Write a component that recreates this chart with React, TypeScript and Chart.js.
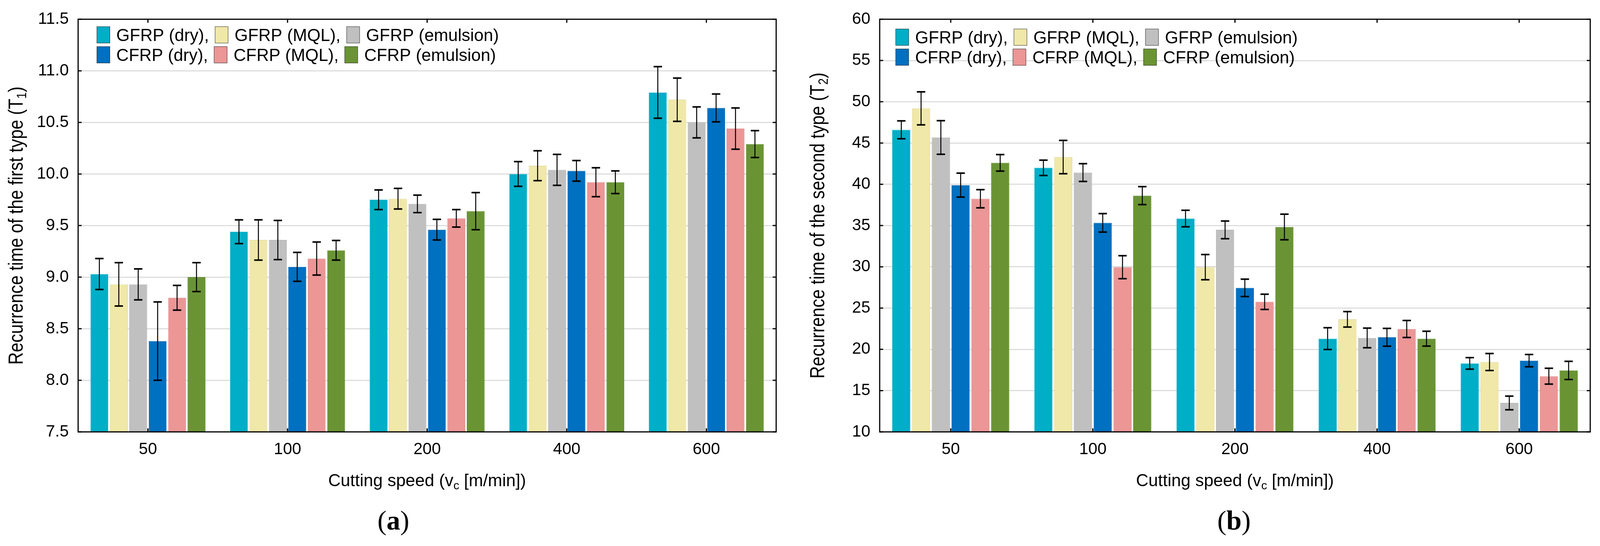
import React, { useEffect, useRef } from 'react';
import { Chart, registerables } from 'chart.js';

Chart.register(...registerables);

// ---------- data ----------
const categories = ['50', '100', '200', '400', '600'];
const seriesLabels = ['GFRP (dry)', 'GFRP (MQL)', 'GFRP (emulsion)', 'CFRP (dry)', 'CFRP (MQL)', 'CFRP (emulsion)'];
const seriesColors = ['#00AEC7', '#F0E8A8', '#C0C0C0', '#0070C0', '#EC9696', '#6A9434'];
const seriesBorders = ['#1BB8CF', '#D9D196', '#ABABAB', '#0A66B0', '#D98888', '#5E8A2C'];

// (a) recurrence time of the first type T1
const t1GfrpDry = [9.03, 9.44, 9.75, 10.0, 10.79];
const t1GfrpMql = [8.93, 9.36, 9.76, 10.08, 10.72];
const t1GfrpEmu = [8.93, 9.36, 9.71, 10.04, 10.5];
const t1CfrpDry = [8.38, 9.1, 9.46, 10.03, 10.64];
const t1CfrpMql = [8.8, 9.18, 9.57, 9.92, 10.44];
const t1CfrpEmu = [9.0, 9.26, 9.64, 9.92, 10.29];
const t1ErrGfrpDry = [0.15, 0.115, 0.095, 0.12, 0.25];
const t1ErrGfrpMql = [0.21, 0.195, 0.1, 0.145, 0.21];
const t1ErrGfrpEmu = [0.15, 0.19, 0.085, 0.15, 0.15];
const t1ErrCfrpDry = [0.38, 0.14, 0.1, 0.1, 0.135];
const t1ErrCfrpMql = [0.12, 0.16, 0.085, 0.14, 0.2];
const t1ErrCfrpEmu = [0.14, 0.095, 0.18, 0.11, 0.13];

// (b) recurrence time of the second type T2
const t2GfrpDry = [46.6, 42.0, 35.85, 21.3, 18.3];
const t2GfrpMql = [49.2, 43.3, 29.96, 23.64, 18.47];
const t2GfrpEmu = [45.67, 41.42, 34.48, 21.38, 13.5];
const t2CfrpDry = [39.9, 35.33, 27.45, 21.46, 18.63];
const t2CfrpMql = [38.25, 29.96, 25.76, 22.47, 16.75];
const t2CfrpEmu = [42.6, 38.63, 34.83, 21.3, 17.45];
const t2ErrGfrpDry = [1.08, 0.93, 1.0, 1.32, 0.7];
const t2ErrGfrpMql = [2.0, 2.02, 1.53, 0.94, 1.03];
const t2ErrGfrpEmu = [2.04, 1.08, 1.07, 1.19, 0.83];
const t2ErrCfrpDry = [1.45, 1.12, 1.05, 1.08, 0.75];
const t2ErrCfrpMql = [1.1, 1.39, 0.92, 1.03, 0.96];
const t2ErrCfrpEmu = [1.0, 1.09, 1.55, 0.9, 1.1];

const t1Values = [t1GfrpDry, t1GfrpMql, t1GfrpEmu, t1CfrpDry, t1CfrpMql, t1CfrpEmu];
const t1Errors = [t1ErrGfrpDry, t1ErrGfrpMql, t1ErrGfrpEmu, t1ErrCfrpDry, t1ErrCfrpMql, t1ErrCfrpEmu];
const t2Values = [t2GfrpDry, t2GfrpMql, t2GfrpEmu, t2CfrpDry, t2CfrpMql, t2CfrpEmu];
const t2Errors = [t2ErrGfrpDry, t2ErrGfrpMql, t2ErrGfrpEmu, t2ErrCfrpDry, t2ErrCfrpMql, t2ErrCfrpEmu];

const FONT = "'Liberation Sans', Arial, Helvetica, sans-serif";
const SERIF = "'Liberation Serif', 'Times New Roman', serif";
const REF_W = 4190;
const H = 1397;
const PLOT_BOTTOM = 1105;
const PLOT_TOP = 42;

type Part = { t: string; sub?: boolean };

function drawParts(ctx: CanvasRenderingContext2D, parts: Part[], cx: number, baseline: number, size: number) {
  const subSize = Math.round(size * 0.68);
  let total = 0;
  const widths: number[] = [];
  parts.forEach((p) => {
    ctx.font = `${p.sub ? subSize : size}px ${FONT}`;
    const w = ctx.measureText(p.t).width;
    widths.push(w);
    total += w;
  });
  let x = cx - total / 2;
  ctx.textAlign = 'left';
  ctx.textBaseline = 'alphabetic';
  parts.forEach((p, i) => {
    ctx.font = `${p.sub ? subSize : size}px ${FONT}`;
    ctx.fillText(p.t, x, p.sub ? baseline + size * 0.18 : baseline);
    x += widths[i];
  });
}

interface DecorCfg {
  yTitle: Part[];
  yTitleBaselineX: number;
  xTitle: Part[];
  xTitleBaseline: number;
  legendDx: number;
  legendDy: number;
  sx: number;
}

function makeDecor(cfg: DecorCfg) {
  return {
    id: 'decor',
    afterDatasetsDraw(chart: any) {
      const ctx: CanvasRenderingContext2D = chart.ctx;
      const ys = chart.scales.y;
      const cap = 11 * cfg.sx;
      ctx.save();
      ctx.strokeStyle = '#000';
      chart.data.datasets.forEach((ds: any, i: number) => {
        const meta = chart.getDatasetMeta(i);
        meta.data.forEach((el: any, j: number) => {
          const v = ds.data[j];
          const e = ds.errors[j];
          const x = el.x;
          const yt = ys.getPixelForValue(v + e);
          const yb = ys.getPixelForValue(v - e);
          ctx.lineWidth = 2.5;
          ctx.beginPath();
          ctx.moveTo(x, yt);
          ctx.lineTo(x, yb);
          ctx.stroke();
          ctx.lineWidth = 4;
          ctx.beginPath();
          ctx.moveTo(x - cap, yt);
          ctx.lineTo(x + cap, yt);
          ctx.moveTo(x - cap, yb);
          ctx.lineTo(x + cap, yb);
          ctx.stroke();
        });
      });
      ctx.restore();
    },
    afterDraw(chart: any) {
      const ctx: CanvasRenderingContext2D = chart.ctx;
      const ca = chart.chartArea;
      const xs = chart.scales.x;
      const ys = chart.scales.y;
      ctx.save();
      // frame
      ctx.strokeStyle = '#000';
      ctx.lineWidth = 3;
      ctx.strokeRect(ca.left, ca.top, ca.right - ca.left, ca.bottom - ca.top);
      // inward tick marks on all four sides
      ctx.beginPath();
      ys.ticks.forEach((_t: any, i: number) => {
        const py = ys.getPixelForTick(i);
        ctx.moveTo(ca.left, py);
        ctx.lineTo(ca.left + 9, py);
        ctx.moveTo(ca.right, py);
        ctx.lineTo(ca.right - 9, py);
      });
      xs.ticks.forEach((_t: any, i: number) => {
        const px = xs.getPixelForTick(i);
        ctx.moveTo(px, ca.top);
        ctx.lineTo(px, ca.top + 9);
        ctx.moveTo(px, ca.bottom);
        ctx.lineTo(px, ca.bottom - 9);
      });
      ctx.stroke();

      // legend inside the plot, two rows of three
      const rows = [[0, 1, 2], [3, 4, 5]];
      const size = 44;
      const bw = 34 * cfg.sx;
      ctx.textAlign = 'left';
      ctx.textBaseline = 'alphabetic';
      rows.forEach((row, r) => {
        let x = ca.left + cfg.legendDx;
        const cy = ca.top + cfg.legendDy + r * 51;
        row.forEach((idx, k) => {
          const ds = chart.data.datasets[idx];
          ctx.fillStyle = ds.backgroundColor;
          ctx.fillRect(x, cy - 21, bw, 42);
          ctx.strokeStyle = 'rgba(0,0,0,0.55)';
          ctx.lineWidth = 1.5;
          ctx.strokeRect(x, cy - 21, bw, 42);
          x += bw + 17 * cfg.sx;
          const text = ds.label + (k < row.length - 1 ? ',' : '');
          ctx.fillStyle = '#000';
          ctx.font = `${size}px ${FONT}`;
          ctx.fillText(text, x, cy + 15.5);
          x += ctx.measureText(text).width + 16 * cfg.sx;
        });
      });

      // x-axis title
      ctx.fillStyle = '#000';
      drawParts(ctx, cfg.xTitle, (ca.left + ca.right) / 2, cfg.xTitleBaseline, 44);

      // y-axis title (rotated, slightly condensed)
      ctx.save();
      ctx.translate(cfg.yTitleBaselineX, (ca.top + ca.bottom) / 2);
      ctx.rotate(-Math.PI / 2);
      ctx.scale(0.85, 1);
      drawParts(ctx, cfg.yTitle, 0, 0, 52);
      ctx.restore();

      ctx.restore();
    },
  };
}

interface PanelProps {
  values: number[][];
  errors: number[][];
  yMin: number;
  yMax: number;
  yStep: number;
  decimals: number;
  width: number;
  plotLeft: number;
  plotRight: number;
  decor: DecorCfg;
}

function Panel(props: PanelProps) {
  const ref = useRef<HTMLCanvasElement | null>(null);
  useEffect(() => {
    if (!ref.current) return;
    const datasets = props.values.map((vals, i) => ({
      label: seriesLabels[i],
      data: vals,
      errors: props.errors[i],
      backgroundColor: seriesColors[i],
      borderColor: seriesBorders[i],
      borderWidth: 1,
      categoryPercentage: 0.835,
      barPercentage: 0.92,
    }));
    const chart = new Chart(ref.current, {
      type: 'bar',
      data: { labels: categories, datasets: datasets as any },
      options: {
        animation: false,
        responsive: false,
        maintainAspectRatio: false,
        devicePixelRatio: 1,
        layout: { padding: { left: 0, right: props.width - props.plotRight, top: PLOT_TOP, bottom: 0 } },
        plugins: {
          legend: { display: false },
          title: { display: false },
          tooltip: { enabled: false },
        },
        scales: {
          x: {
            type: 'category',
            grid: { display: false, drawTicks: false },
            border: { display: false },
            ticks: { color: '#000', font: { family: FONT, size: 42 }, padding: 20 },
            afterFit: (s: any) => {
              s.height = H - PLOT_BOTTOM;
            },
          },
          y: {
            type: 'linear',
            min: props.yMin,
            max: props.yMax,
            grid: { color: '#D8D8D8', lineWidth: 2.5, drawTicks: false },
            border: { display: false },
            ticks: {
              stepSize: props.yStep,
              color: '#000',
              font: { family: FONT, size: 42 },
              padding: 24,
              callback: (v: any) => Number(v).toFixed(props.decimals),
            },
            afterFit: (s: any) => {
              s.width = props.plotLeft;
            },
          },
        },
      } as any,
      plugins: [makeDecor(props.decor) as any],
    });
    return () => chart.destroy();
  }, []);
  return <canvas ref={ref} width={props.width} height={H} style={{ width: props.width, height: H, display: 'block' }} />;
}

export default function App() {
  const vw = typeof window !== 'undefined' && window.innerWidth ? Math.min(window.innerWidth, REF_W) : REF_W;
  const sx = vw / REF_W;
  const X = (v: number) => Math.round(v * sx);
  const aW = X(2095);
  const bW = X(REF_W) - X(2095);
  const captionStyle: React.CSSProperties = {
    position: 'absolute',
    width: 200,
    top: 1292,
    textAlign: 'center',
    fontFamily: SERIF,
    fontSize: 70,
    lineHeight: '80px',
    color: '#000',
  };
  return (
    <div style={{ position: 'absolute', left: 0, top: 0, width: X(REF_W), height: H, background: '#fff', overflow: 'hidden' }}>
      <div style={{ position: 'absolute', left: 0, top: 0 }}>
        <Panel
          values={t1Values}
          errors={t1Errors}
          yMin={7.5}
          yMax={11.5}
          yStep={0.5}
          decimals={1}
          width={aW}
          plotLeft={X(205)}
          plotRight={X(2033)}
          decor={{
            yTitle: [{ t: 'Recurrence time of the first type (T' }, { t: '1', sub: true }, { t: ')' }],
            yTitleBaselineX: X(59),
            xTitle: [{ t: 'Cutting speed (v' }, { t: 'c', sub: true }, { t: ' [m/min])' }],
            xTitleBaseline: 1244,
            legendDx: X(49),
            legendDy: 40,
            sx,
          }}
        />
      </div>
      <div style={{ position: 'absolute', left: X(2095), top: 0 }}>
        <Panel
          values={t2Values}
          errors={t2Errors}
          yMin={10}
          yMax={60}
          yStep={5}
          decimals={0}
          width={bW}
          plotLeft={X(2304) - X(2095)}
          plotRight={X(4164) - X(2095)}
          decor={{
            yTitle: [{ t: 'Recurrence time of the second type (T' }, { t: '2', sub: true }, { t: ')' }],
            yTitleBaselineX: X(2158) - X(2095),
            xTitle: [{ t: 'Cutting speed (v' }, { t: 'c', sub: true }, { t: ' [m/min])' }],
            xTitleBaseline: 1244,
            legendDx: X(42),
            legendDy: 46,
            sx,
          }}
        />
      </div>
      <div style={{ ...captionStyle, left: X(1030) - 100 }}>
        (<b>a</b>)
      </div>
      <div style={{ ...captionStyle, left: X(3232) - 100 }}>
        (<b>b</b>)
      </div>
    </div>
  );
}
